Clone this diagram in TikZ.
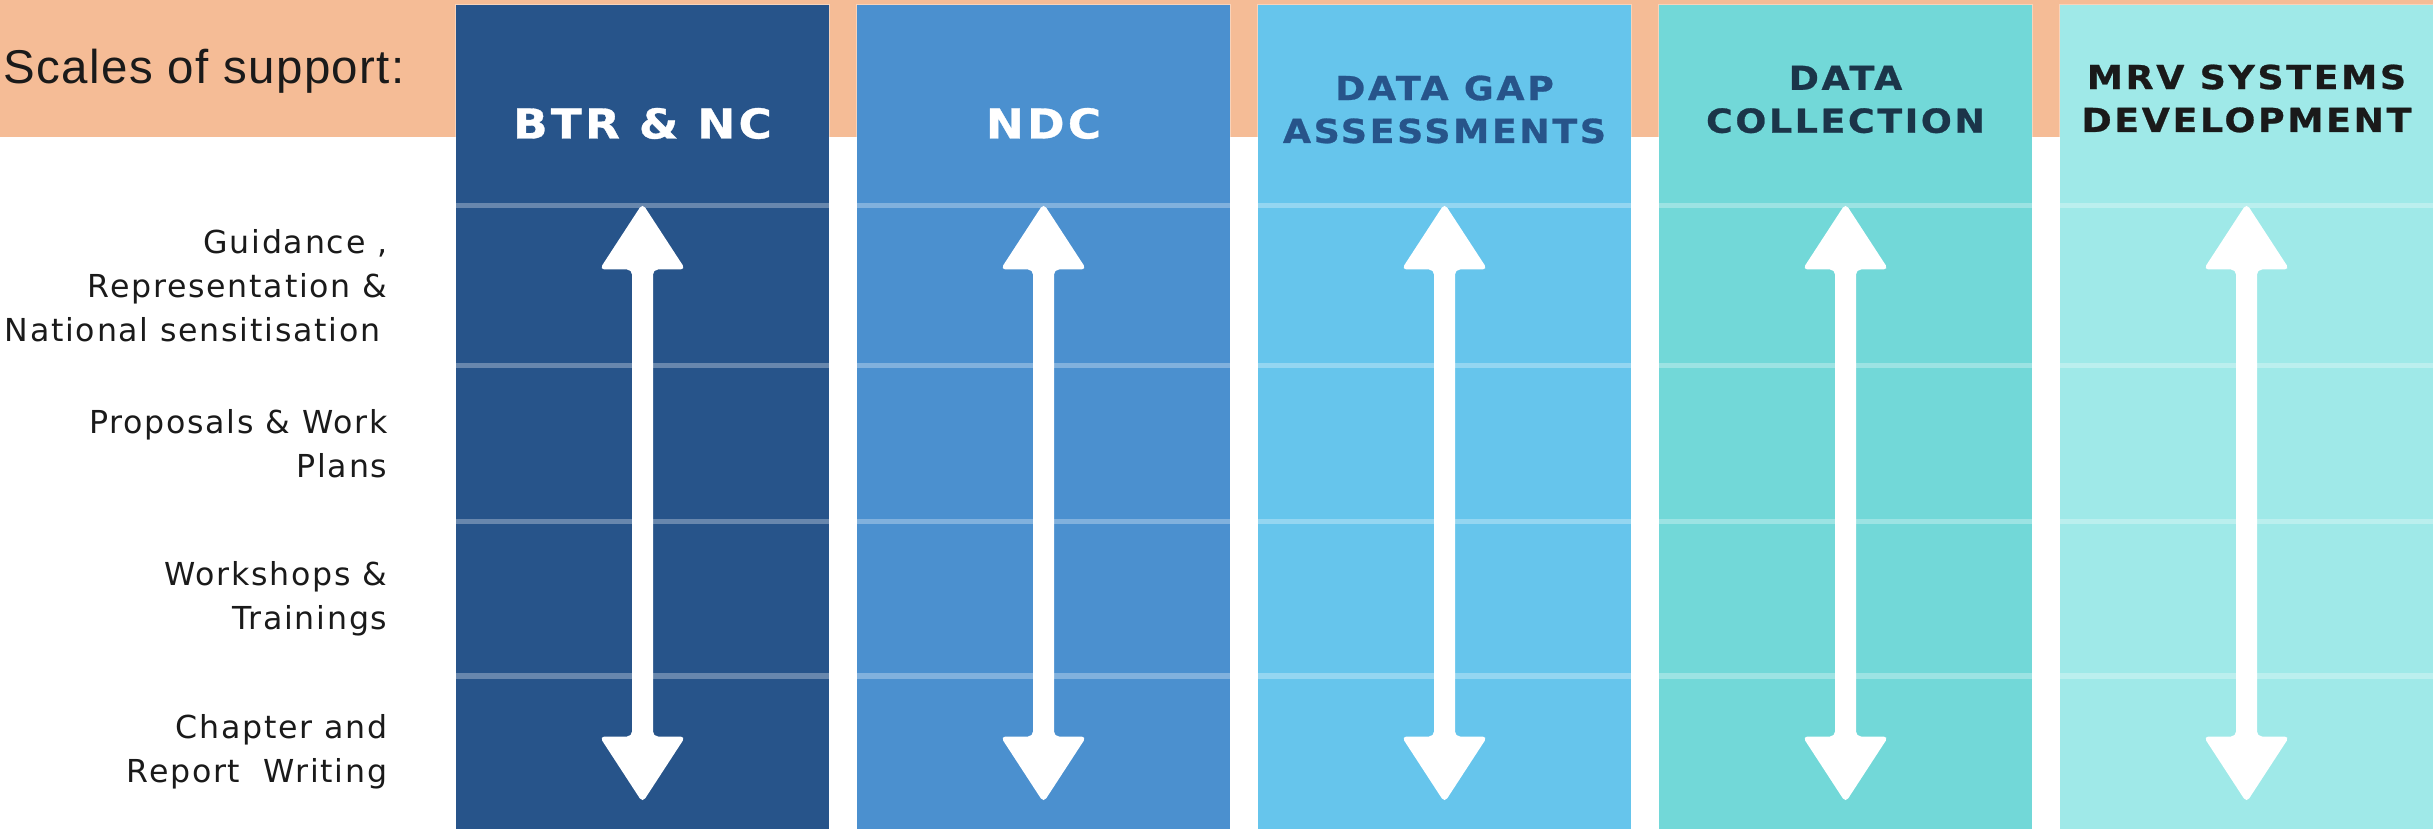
\documentclass[tikz,border=0pt]{standalone}
\usepackage{fontspec}
\setmainfont{Liberation Sans}
\newfontfamily\headfont[FakeStretch=1.1,FakeBold=0.8,LetterSpace=8]{DejaVu Sans}
\newfontfamily\labelfont[LetterSpace=5.5]{DejaVu Sans}
\newfontfamily\titlefont[LetterSpace=3]{Liberation Sans}
\usepackage{xcolor}
\usetikzlibrary{calc,positioning}

\definecolor{bandorange}{HTML}{F5BC96}
\definecolor{colA}{HTML}{27548A}
\definecolor{colB}{HTML}{4B90CF}
\definecolor{colC}{HTML}{66C5EC}
\definecolor{colD}{HTML}{72D8D8}
\definecolor{colE}{HTML}{9FE9E8}
\definecolor{inkteal}{HTML}{1B3549}
\definecolor{inkdark}{HTML}{1A1A1A}

\tikzset{
    colbox/.style={rectangle, inner sep=0pt, minimum width=3.735cm, minimum height=8.24cm,
        draw=white, draw opacity=0.35, line width=0.01cm},
    gridline/.style={white, opacity=0.3, line width=0.05cm},
    headbig/.style={text=white, align=center, inner sep=0pt,
        font=\headfont\bfseries\fontsize{11.7}{12.2}\selectfont},
    headsmall/.style={align=center, inner sep=0pt,
        font=\headfont\bfseries\fontsize{9.4}{12.2}\selectfont},
    rowlabel/.style={anchor=east, align=right, inner sep=0pt, text=inkdark,
        font=\labelfont\fontsize{9.0}{12.5}\selectfont},
    arrowshape/.style={fill=white, rounded corners=0.05cm}
}

\begin{document}
\begin{tikzpicture}

    \useasboundingbox (0,0) rectangle (24.33,-8.29);

    %orange band
    \fill [bandorange] (0,0) rectangle (24.33,-1.37);
    \node [anchor=west, inner sep=0pt, text=inkdark, font=\titlefont\fontsize{13.5}{14}\selectfont]
        (scales) at (0.03,-0.71) {Scales of support:};

    %columns
    \foreach \name/\i/\col in {btr/0/colA, ndc/1/colB, gap/2/colC, coll/3/colD, mrv/4/colE}
    {
        \node [colbox, fill=\col] (\name) at (6.425+4.01*\i,-4.17) {};
        \foreach \y in {-2.06,-3.66,-5.22,-6.76}
            \draw [gridline] (\name.west |- 0,\y) -- (\name.east |- 0,\y);
        \coordinate (\name-up) at ($(\name.north)+(0,-1.99)$);
        \coordinate (\name-dn) at ($(\name.north)+(0,-7.98)$);
        \fill [arrowshape] (\name-up) -- ++(0.43,-0.66) -- ++(-0.325,0)
            -- ($(\name-dn)+(0.105,0.66)$) -- ++(0.325,0) -- (\name-dn)
            -- ++(-0.43,0.66) -- ++(0.325,0)
            -- ($(\name-up)+(-0.105,-0.66)$) -- ++(-0.325,0) -- cycle;
    }

    %headers
    \node [headbig] (btrhead) at ([yshift=-1.19cm]btr.north) {BTR \& NC};
    \node [headbig] (ndchead) at ([yshift=-1.19cm]ndc.north) {NDC};
    \node [headsmall, text=colA] (gaphead) at ([yshift=-1.05cm]gap.north) {DATA GAP\\ASSESSMENTS};
    \node [headsmall, text=inkteal] (collhead) at ([yshift=-0.95cm]coll.north) {DATA\\COLLECTION};
    \node [headsmall, text=inkdark] (mrvhead) at ([yshift=-0.94cm]mrv.north) {MRV SYSTEMS\\DEVELOPMENT};

    %row labels
    \node [rowlabel] (guide) at (3.88,-2.86) {Guidance ,\\Representation \&\\National sensitisation\kern0.07cm};
    \node [rowlabel] (plans) at (3.88,-4.44) {Proposals \& Work\\Plans};
    \node [rowlabel] (train) at (3.88,-5.99) {Workshops \&\\Trainings};
    \node [rowlabel] (write) at (3.88,-7.52) {Chapter and\\Report\ \ Writing};

\end{tikzpicture}
\end{document}
